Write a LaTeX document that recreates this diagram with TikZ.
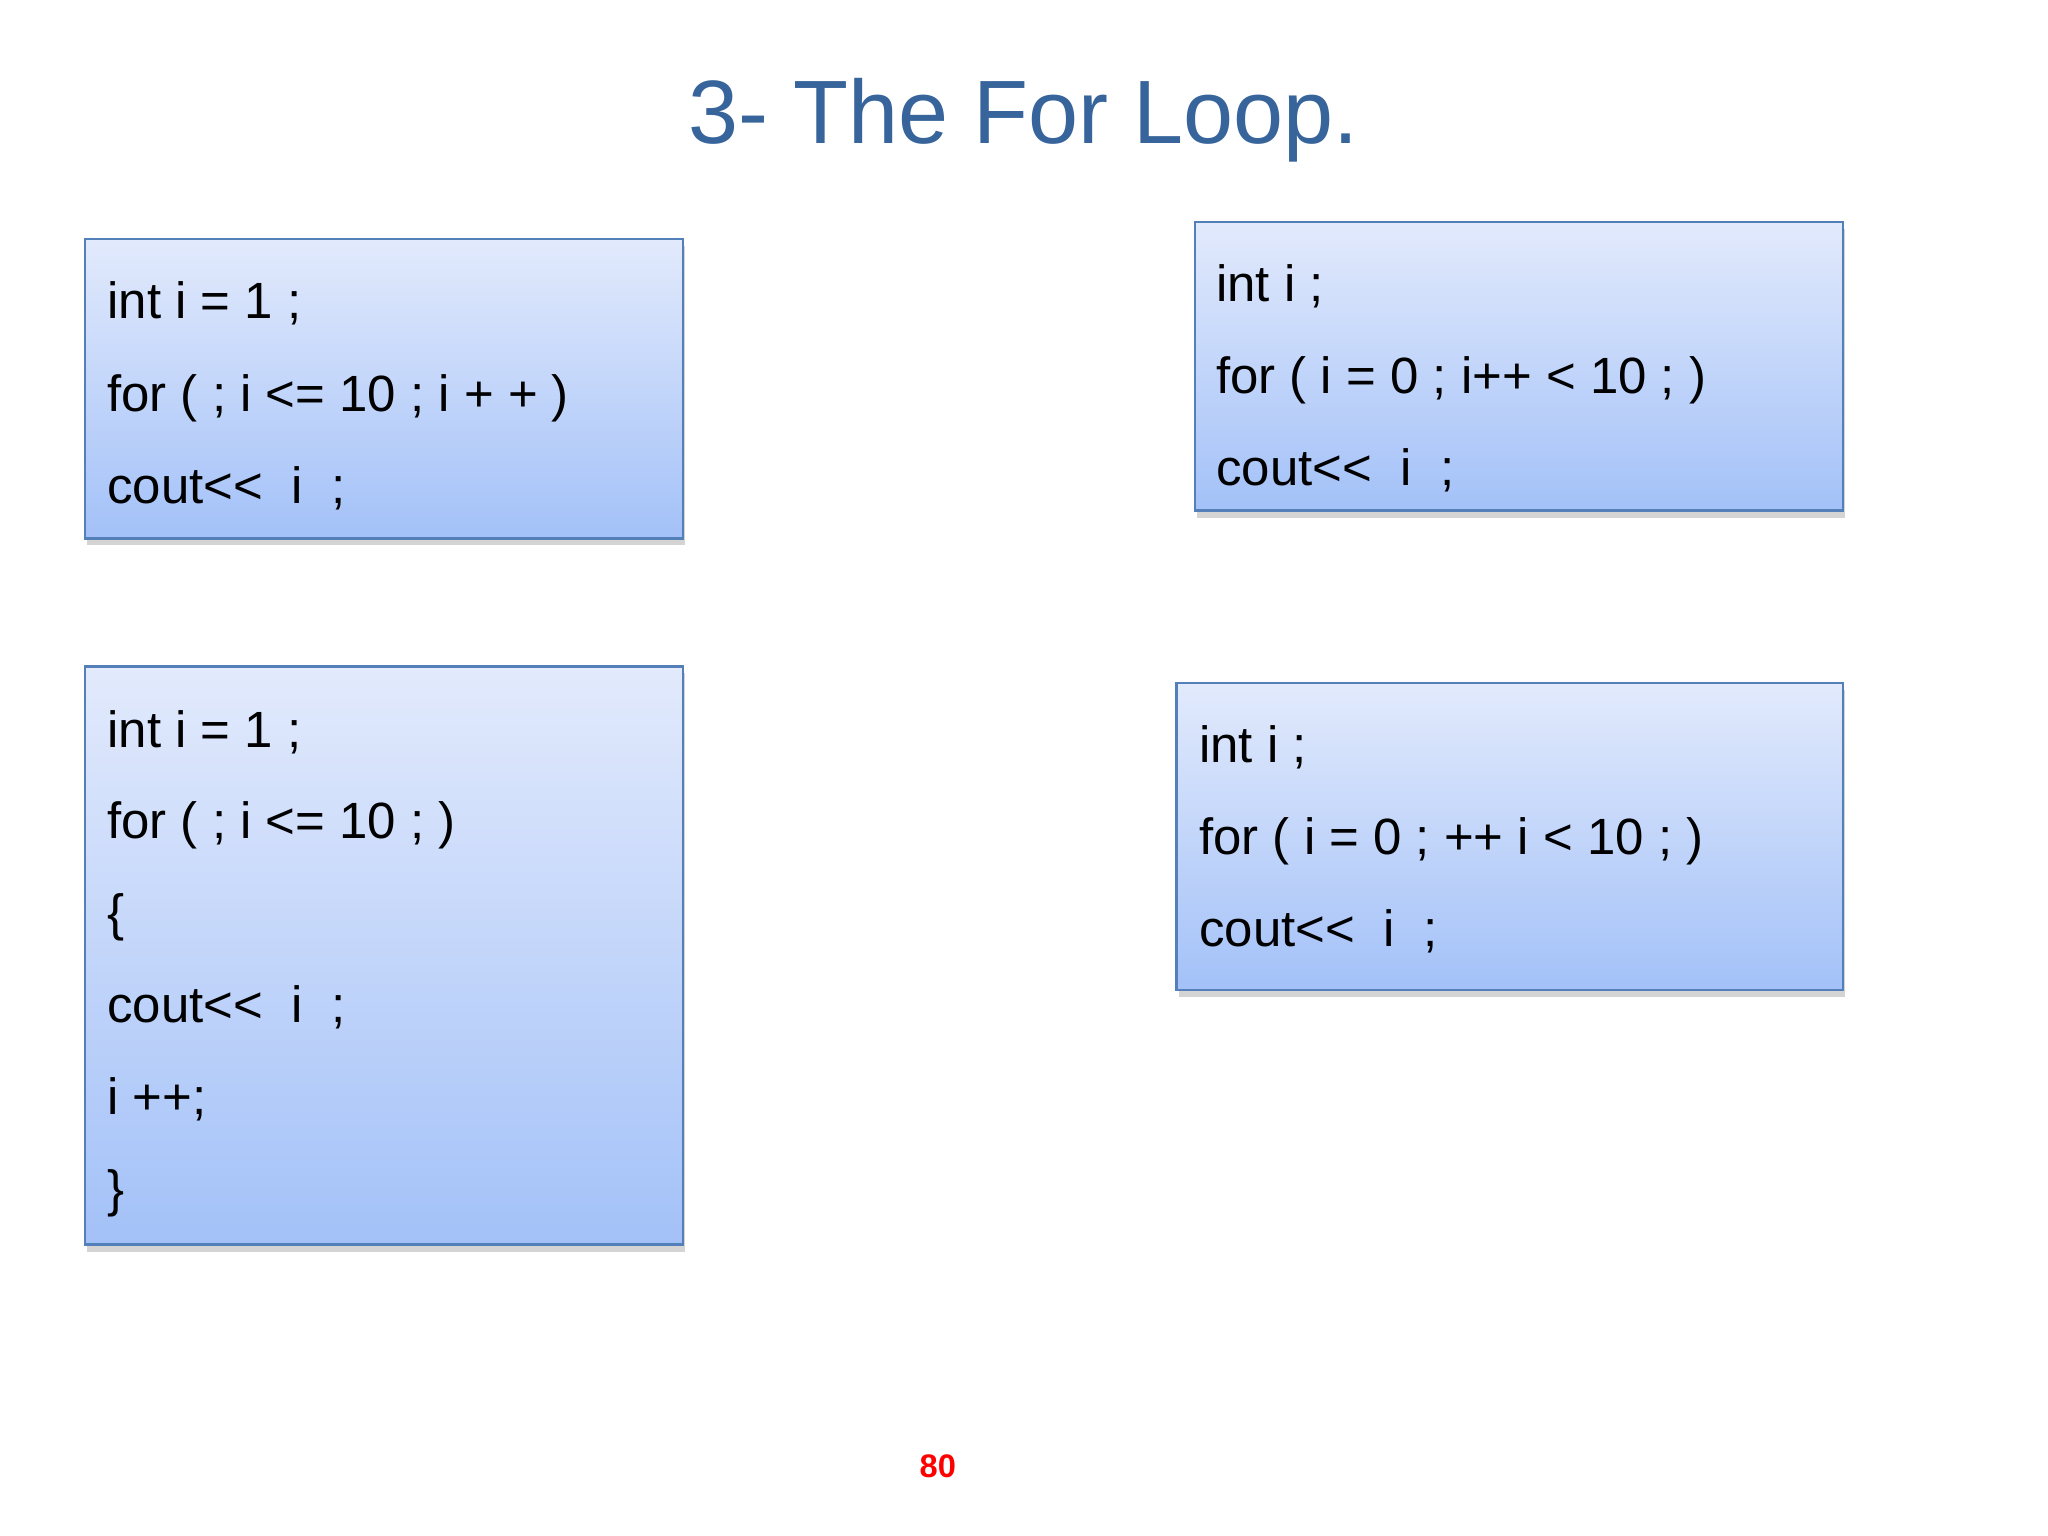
\documentclass[tikz,border=0pt]{standalone}
\usepackage{fontspec}
\setmainfont{Liberation Sans}
\usetikzlibrary{shadows,fit}
\definecolor{titleblue}{RGB}{54,100,155}
\definecolor{boxtop}{RGB}{226,234,252}
\definecolor{boxbot}{RGB}{163,193,248}
\definecolor{boxline}{RGB}{84,128,186}
\newcommand{\coutln}{cout{<}{<}~~i~~;}
\tikzset{
  codebox/.style={draw=boxline, line width=0.6pt, top color=boxtop, bottom color=boxbot,
    inner sep=0pt, drop shadow={shadow xshift=0.4pt, shadow yshift=-1.6pt, opacity=0.3, fill=black!55}},
  codeline/.style={anchor=base west, inner sep=0pt, font=\fontsize{11.1pt}{13pt}\selectfont},
}
\begin{document}
\begin{tikzpicture}[x=0.1mm,y=-0.1mm]
\fill[white] (0,0) rectangle (1568,1176);
\useasboundingbox (0,0) rectangle (1568,1176);
\node[anchor=base, text=titleblue, font=\fontsize{19.6pt}{24pt}\selectfont, inner sep=0pt] (title) at (783.5,110) {3- The For Loop.};

% box 1
\coordinate (b1a) at (65,183); \coordinate (b1b) at (523,412);
\node[codebox, fit=(b1a)(b1b)] (box1) {};
\node[codeline] (b1l1) at (81.5,244.2) {int i = 1 ;};
\node[codeline] (b1l2) at (81.5,314.9) {for ( ; i {<}= 10 ; i + + )};
\node[codeline] (b1l3) at (81.5,385.3) {\coutln};

% box 2
\coordinate (b2a) at (915,170); \coordinate (b2b) at (1411,391);
\node[codebox, fit=(b2a)(b2b)] (box2) {};
\node[codeline] (b2l1) at (930.5,230.8) {int i ;};
\node[codeline] (b2l2) at (930.5,301.6) {for ( i = 0 ; i++ < 10 ; )};
\node[codeline] (b2l3) at (930.5,371.8) {\coutln};

% box 3
\coordinate (b3a) at (901,523); \coordinate (b3b) at (1411,758);
\node[codebox, fit=(b3a)(b3b)] (box3) {};
\node[codeline] (b3l1) at (917.5,584) {int i ;};
\node[codeline] (b3l2) at (917.5,654.5) {for ( i = 0 ; ++ i < 10 ; )};
\node[codeline] (b3l3) at (917.5,725) {\coutln};

% box 4
\coordinate (b4a) at (65,510); \coordinate (b4b) at (523,953);
\node[codebox, fit=(b4a)(b4b)] (box4) {};
\node[codeline] (b4l1) at (81.5,572) {int i = 1 ;};
\node[codeline] (b4l2) at (81.5,642) {for ( ; i {<}= 10 ; )};
\node[codeline] (b4l3) at (81.5,712.5) {\{};
\node[codeline] (b4l4) at (81.5,783) {\coutln};
\node[codeline] (b4l5) at (81.5,853) {i ++;};
\node[codeline] (b4l6) at (81.5,923.5) {\}};

\node[anchor=base, text=red, font=\bfseries\fontsize{7.1pt}{9pt}\selectfont, inner sep=0pt] (pg) at (718,1131) {80};
\end{tikzpicture}
\end{document}
